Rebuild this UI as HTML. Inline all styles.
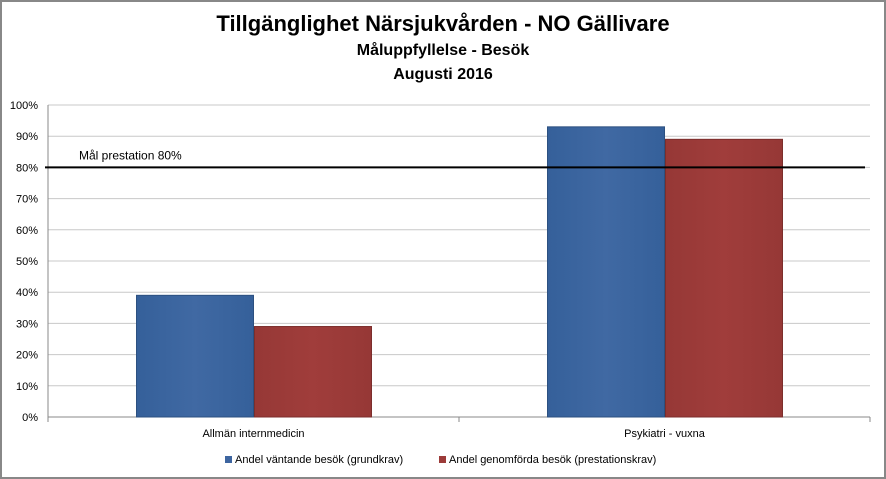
<!DOCTYPE html>
<html><head><meta charset="utf-8"><style>
body{margin:0;background:#fff;}
#c{position:relative;width:886px;height:479px;overflow:hidden;font-family:"Liberation Sans",Arial,sans-serif;}
</style></head><body>
<div id="c">
<svg id="s" width="886" height="479" xmlns="http://www.w3.org/2000/svg">
<defs>
<linearGradient id="gb" x1="0" x2="1" y1="0" y2="0"><stop offset="0" stop-color="#35609a"/><stop offset="0.5" stop-color="#4069a3"/><stop offset="1" stop-color="#35609a"/></linearGradient>
<linearGradient id="gr" x1="0" x2="1" y1="0" y2="0"><stop offset="0" stop-color="#963836"/><stop offset="0.5" stop-color="#a03d3b"/><stop offset="1" stop-color="#963836"/></linearGradient>
</defs>
<rect x="1" y="1" width="884" height="477" fill="#fff" stroke="#888" stroke-width="2"/>
<text x="443" y="31" text-anchor="middle" font-size="22" font-weight="bold" fill="#000">Tillgänglighet Närsjukvården - NO Gällivare</text>
<text x="443" y="55" text-anchor="middle" font-size="16" font-weight="bold">Måluppfyllelse - Besök</text>
<text x="443" y="79" text-anchor="middle" font-size="16" font-weight="bold">Augusti 2016</text>
<g id="grid"></g><g id="bars"></g><g id="labels"></g>
</svg>
</div>
<script>
const categories=["Allmän internmedicin","Psykiatri - vuxna"];
const seriesNames=["Andel väntande besök (grundkrav)","Andel genomförda besök (prestationskrav)"];
const waitingValues=[39,93];
const completedValues=[29,89];
const goalValue=80;
const yTicks=[0,10,20,30,40,50,60,70,80,90,100];
const NS="http://www.w3.org/2000/svg";
const x0=48,x1=870,y0=417,y1=105;
const y=v=>y0-(v/100)*(y0-y1);
const catW=(x1-x0)/categories.length;
function mk(t,a,p){const e=document.createElementNS(NS,t);for(const k in a)e.setAttribute(k,a[k]);p.appendChild(e);return e;}
const g=document.getElementById('grid'),b=document.getElementById('bars'),l=document.getElementById('labels');
yTicks.forEach(t=>{
 const ln=mk('line',{x1:x0,x2:x1,y1:y(t),y2:y(t),stroke:t===0?'#888':'#c8c8c8','stroke-width':1},g);
 
 const tx=mk('text',{x:38,y:y(t)+4,'text-anchor':'end','font-size':11},l);tx.textContent=t+'%';
 
});
const ax=mk('line',{x1:x0,x2:x0,y1:y1,y2:y0,stroke:'#888'},g);

[0,1,2].forEach(i=>{const t=mk('line',{x1:x0+i*catW,x2:x0+i*catW,y1:y0,y2:y0+5,stroke:'#888'},g);});
const bw=117;
categories.forEach((c,i)=>{
 const cx=x0+catW*(i+0.5);
 [[waitingValues,'url(#gb)','#2c5080'],[completedValues,'url(#gr)','#7c2e2c']].forEach((s,j)=>{
  const v=s[0][i];const bx=j===0?cx-bw:cx+1;
  const r=mk('rect',{x:bx,y:y(v),width:bw,height:y0-y(v),fill:s[1],stroke:s[2],'stroke-width':1},b);
  
 });
 const tx=mk('text',{x:cx,y:437,'text-anchor':'middle','font-size':11},l);tx.textContent=c;
 
});
const gl=mk('line',{x1:45,x2:865,y1:y(goalValue),y2:y(goalValue),stroke:'#000','stroke-width':2},b);

const gt=mk('text',{x:79,y:y(goalValue)-8,'font-size':12},l);gt.textContent='Mål prestation  '+goalValue+'%';

const lx=[225,439],lc=['#3d65a0','#9c3b39'];
seriesNames.forEach((n,i)=>{
 const r=mk('rect',{x:lx[i],y:456,width:7,height:7,fill:lc[i]},l);
 
 const t=mk('text',{x:lx[i]+10,y:463,'font-size':11},l);t.textContent=n;
 
});
</script>
</body></html>
